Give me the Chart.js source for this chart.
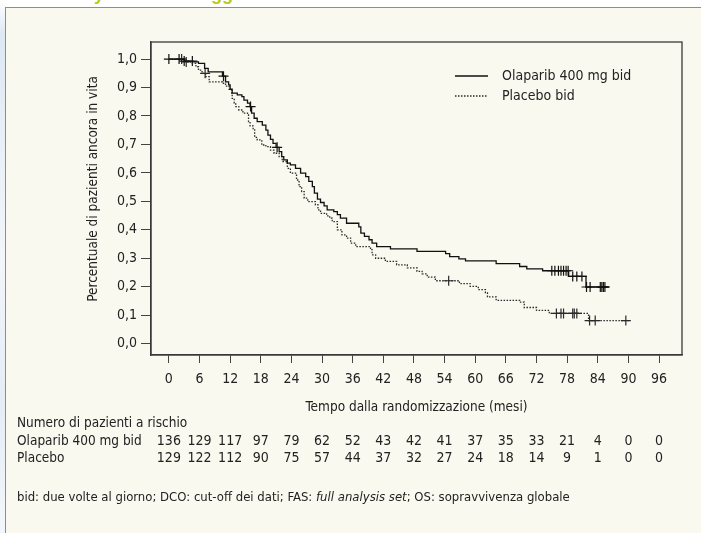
<!DOCTYPE html>
<html>
<head>
<meta charset="utf-8">
<script src="https://cdn.jsdelivr.net/npm/chart.js@4.4.1/dist/chart.umd.min.js"></script>
<style>
  html, body { margin: 0; padding: 0; background: #fff; }
  body { width: 701px; height: 533px; position: relative; overflow: hidden; }
  #edge { position: absolute; left: 0; top: 0; width: 6px; height: 533px;
    background: linear-gradient(to bottom, #fff 0, #dde8f3 35px, #e6eef6 120px, #f3f6fa 260px, #e4ecf5 400px, #f4f7fa 533px); }
  #heading { position: absolute; left: 0; top: 0; width: 701px; height: 7px; overflow: hidden; }
  #heading span { position: absolute; left: 54px; top: -16px; white-space: nowrap;
    font: bold 18px "Liberation Sans", sans-serif; color: #b7ca12; }
  #panel { position: absolute; left: 5px; top: 7px; width: 710px; height: 540px; box-sizing: border-box;
    background: #f9f9ef; border: 1px solid #8d8d8d; }
  #wrap { position: absolute; left: 0; top: 0; width: 701px; height: 533px; }
</style>
</head>
<body>
<div id="edge"></div>
<div id="heading"><span>Study 19: analisi aggiornata della OS</span></div>
<div id="panel"></div>
<div id="wrap"><canvas id="km"></canvas></div>
<script>
const FONT = '"DejaVu Sans Condensed", "DejaVu Sans", sans-serif';
const INK = '#222';

const xTicks = [0, 6, 12, 18, 24, 30, 36, 42, 48, 54, 60, 66, 72, 78, 84, 90, 96];
const yTicks = [0, 0.1, 0.2, 0.3, 0.4, 0.5, 0.6, 0.7, 0.8, 0.9, 1.0];

// Kaplan-Meier steps: [mese, sopravvivenza dopo l'evento]
const olaparibSteps = [
  [0, 1.0], [3.0, 0.993], [4.7, 0.99], [5.8, 0.985], [7.0, 0.967], [7.7, 0.955],
  [10.5, 0.94], [11.1, 0.92], [11.7, 0.909], [12.0, 0.894], [12.4, 0.88], [13.4, 0.874],
  [14.3, 0.868], [14.7, 0.856], [15.4, 0.845], [15.9, 0.833], [16.2, 0.81], [16.7, 0.792],
  [17.3, 0.78], [18.3, 0.768], [19.0, 0.75], [19.4, 0.733], [19.9, 0.718], [20.4, 0.704],
  [21.0, 0.69], [21.6, 0.675], [22.1, 0.657], [22.5, 0.646], [23.2, 0.634], [23.8, 0.628],
  [24.8, 0.616], [25.8, 0.599], [26.8, 0.587], [27.4, 0.57], [28.1, 0.552], [28.5, 0.529],
  [29.1, 0.508], [29.7, 0.496], [30.4, 0.484], [31.0, 0.47], [32.3, 0.464], [33.0, 0.453],
  [33.6, 0.441], [34.8, 0.423], [37.2, 0.41], [37.6, 0.388], [38.3, 0.377], [39.2, 0.365],
  [39.8, 0.353], [40.7, 0.341], [43.4, 0.333], [48.6, 0.324], [54.2, 0.316], [55.0, 0.306],
  [56.8, 0.298], [58.1, 0.291], [64.1, 0.281], [68.7, 0.271], [70.1, 0.263], [73.2, 0.256],
  [78.3, 0.236], [81.7, 0.199], [86.2, 0.199]
];
const placeboSteps = [
  [0, 1.0], [3.3, 0.99], [4.6, 0.985], [5.3, 0.973], [5.8, 0.961], [6.5, 0.95],
  [7.2, 0.938], [7.9, 0.92], [10.5, 0.915], [11.1, 0.905], [11.8, 0.894], [12.3, 0.88],
  [12.4, 0.862], [12.8, 0.845], [13.1, 0.833], [13.7, 0.821], [14.5, 0.81], [15.4, 0.804],
  [15.6, 0.78], [15.9, 0.765], [16.5, 0.751], [16.8, 0.725], [17.3, 0.716], [18.2, 0.698],
  [19.0, 0.692], [19.9, 0.68], [20.6, 0.669], [21.6, 0.657], [22.2, 0.64], [23.2, 0.616],
  [23.8, 0.599], [25.0, 0.575], [25.5, 0.552], [26.0, 0.534], [26.5, 0.511], [27.2, 0.499],
  [28.7, 0.488], [29.2, 0.47], [29.7, 0.458], [30.9, 0.449], [31.5, 0.441], [32.0, 0.429],
  [33.0, 0.40], [33.9, 0.382], [34.8, 0.371], [35.6, 0.353], [36.6, 0.341], [39.5, 0.33],
  [39.8, 0.312], [40.5, 0.30], [42.4, 0.289], [44.6, 0.277], [46.7, 0.266], [48.6, 0.254],
  [49.6, 0.245], [50.6, 0.234], [52.2, 0.221], [56.9, 0.211], [59.0, 0.201], [60.6, 0.19],
  [62.0, 0.178], [62.4, 0.164], [64.1, 0.152], [68.7, 0.146], [69.6, 0.127], [72.0, 0.117],
  [74.5, 0.106], [82.2, 0.081], [90.1, 0.081]
];

// tempi dei pazienti censurati
const olaparibCensored = [0, 2.0, 3.0, 4.6, 10.7, 16.0, 21.2, 75.0, 75.6, 76.3, 76.8, 77.3, 77.8,
  78.2, 79.1, 79.9, 80.9, 81.8, 82.5, 84.5, 84.8, 85.1, 85.4];
const placeboCensored = [2.5, 3.4, 7.1, 54.8, 75.9, 76.8, 77.3, 79.1, 79.4, 79.9, 82.4, 83.5, 89.5];

const riskOlaparib = [136, 129, 117, 97, 79, 62, 52, 43, 42, 41, 37, 35, 33, 21, 4, 0, 0];
const riskPlacebo = [129, 122, 112, 90, 75, 57, 44, 37, 32, 27, 24, 18, 14, 9, 1, 0, 0];

function survivalAt(steps, t) {
  let s = steps[0][1];
  for (const [ti, si] of steps) if (ti <= t) s = si;
  return s;
}
const toPoints = steps => steps.map(([x, y]) => ({ x, y }));
const censorPoints = (steps, times) => times.map(t => ({ x: t, y: survivalAt(steps, t) }));

const decimal = v => v.toFixed(1).replace('.', ',');

// cornice, legenda, titoli degli assi e tabella dei pazienti a rischio
const extras = {
  id: 'extras',
  afterDraw(chart) {
    const { ctx, chartArea: a, scales: { x } } = chart;
    const ds = chart.data.datasets;
    ctx.save();
    ctx.strokeStyle = '#3a3a3a';
    ctx.lineWidth = 1.3;
    ctx.strokeRect(a.left, a.top, a.right - a.left, a.bottom - a.top);

    ctx.fillStyle = INK;
    ctx.font = '14px ' + FONT;
    ctx.textBaseline = 'middle';

    // legenda
    [[ds[0], 76], [ds[1], 96]].forEach(([d, y]) => {
      ctx.save();
      ctx.strokeStyle = d.borderColor;
      ctx.lineWidth = d.borderWidth;
      ctx.setLineDash(d.borderDash || []);
      ctx.beginPath();
      ctx.moveTo(455, y);
      ctx.lineTo(488, y);
      ctx.stroke();
      ctx.restore();
      ctx.textAlign = 'left';
      ctx.fillText(d.label, 502, y);
    });

    // titolo asse x
    ctx.font = '13.5px ' + FONT;
    ctx.textAlign = 'center';
    ctx.fillText('Tempo dalla randomizzazione (mesi)', (a.left + a.right) / 2, 407);

    // titolo asse y
    ctx.save();
    ctx.translate(93, 189);
    ctx.rotate(-Math.PI / 2);
    ctx.fillText('Percentuale di pazienti ancora in vita', 0, 0);
    ctx.restore();

    // pazienti a rischio
    ctx.textAlign = 'left';
    ctx.fillText('Numero di pazienti a rischio', 17, 423);
    ctx.fillText(ds[0].label, 17, 441);
    ctx.fillText('Placebo', 17, 458);
    ctx.font = '14px ' + FONT;
    ctx.textAlign = 'center';
    xTicks.forEach((t, i) => {
      const px = x.getPixelForValue(t);
      ctx.fillText(String(riskOlaparib[i]), px, 441);
      ctx.fillText(String(riskPlacebo[i]), px, 458);
    });

    // nota a piè di pagina
    const parts = [
      ['bid: due volte al giorno; DCO: cut-off dei dati; FAS: ', ''],
      ['full analysis set', 'italic '],
      ['; OS: sopravvivenza globale', '']
    ];
    ctx.textAlign = 'left';
    let fx = 17;
    parts.forEach(([txt, style]) => {
      ctx.font = style + '13px ' + FONT;
      ctx.fillText(txt, fx, 498);
      fx += ctx.measureText(txt).width;
    });
    ctx.restore();
  }
};

new Chart(document.getElementById('km'), {
  type: 'line',
  data: {
    datasets: [
      {
        label: 'Olaparib 400 mg bid',
        data: toPoints(olaparibSteps),
        stepped: true,
        borderColor: '#111',
        borderWidth: 1.3,
        pointRadius: 0,
        fill: false
      },
      {
        label: 'Placebo bid',
        data: toPoints(placeboSteps),
        stepped: true,
        borderColor: '#2a2a2a',
        borderWidth: 1.3,
        borderDash: [1.5, 1.5],
        pointRadius: 0,
        fill: false
      },
      {
        label: 'Olaparib censurati',
        data: censorPoints(olaparibSteps, olaparibCensored),
        showLine: false,
        pointStyle: 'cross',
        pointRadius: 5,
        borderColor: '#111',
        borderWidth: 1.2
      },
      {
        label: 'Placebo censurati',
        data: censorPoints(placeboSteps, placeboCensored),
        showLine: false,
        pointStyle: 'cross',
        pointRadius: 5,
        borderColor: '#2a2a2a',
        borderWidth: 1.2
      }
    ]
  },
  options: {
    responsive: true,
    maintainAspectRatio: false,
    animation: false,
    layout: { padding: { top: 42, right: 19, left: 0, bottom: 0 } },
    plugins: { legend: { display: false }, tooltip: { enabled: false } },
    scales: {
      x: {
        type: 'linear',
        min: -3.5,
        max: 100.5,
        afterBuildTicks: s => { s.ticks = xTicks.map(v => ({ value: v })); },
        afterFit: s => { s.height = 178; },
        grid: { drawOnChartArea: false, drawTicks: true, tickLength: 8, color: '#444' },
        border: { display: true, color: '#3a3a3a', width: 1.3 },
        ticks: { color: INK, font: { family: FONT, size: 14 }, padding: 8, maxRotation: 0, autoSkip: false }
      },
      y: {
        type: 'linear',
        min: -0.04,
        max: 1.06,
        afterBuildTicks: s => { s.ticks = yTicks.map(v => ({ value: v })); },
        afterFit: s => { s.width = 151; },
        grid: { drawOnChartArea: false, drawTicks: true, tickLength: 10, color: '#444' },
        border: { display: true, color: '#3a3a3a', width: 1.3 },
        ticks: { color: INK, font: { family: FONT, size: 14 }, padding: 4, callback: v => decimal(v) }
      }
    }
  },
  plugins: [extras]
});
</script>
</body>
</html>
